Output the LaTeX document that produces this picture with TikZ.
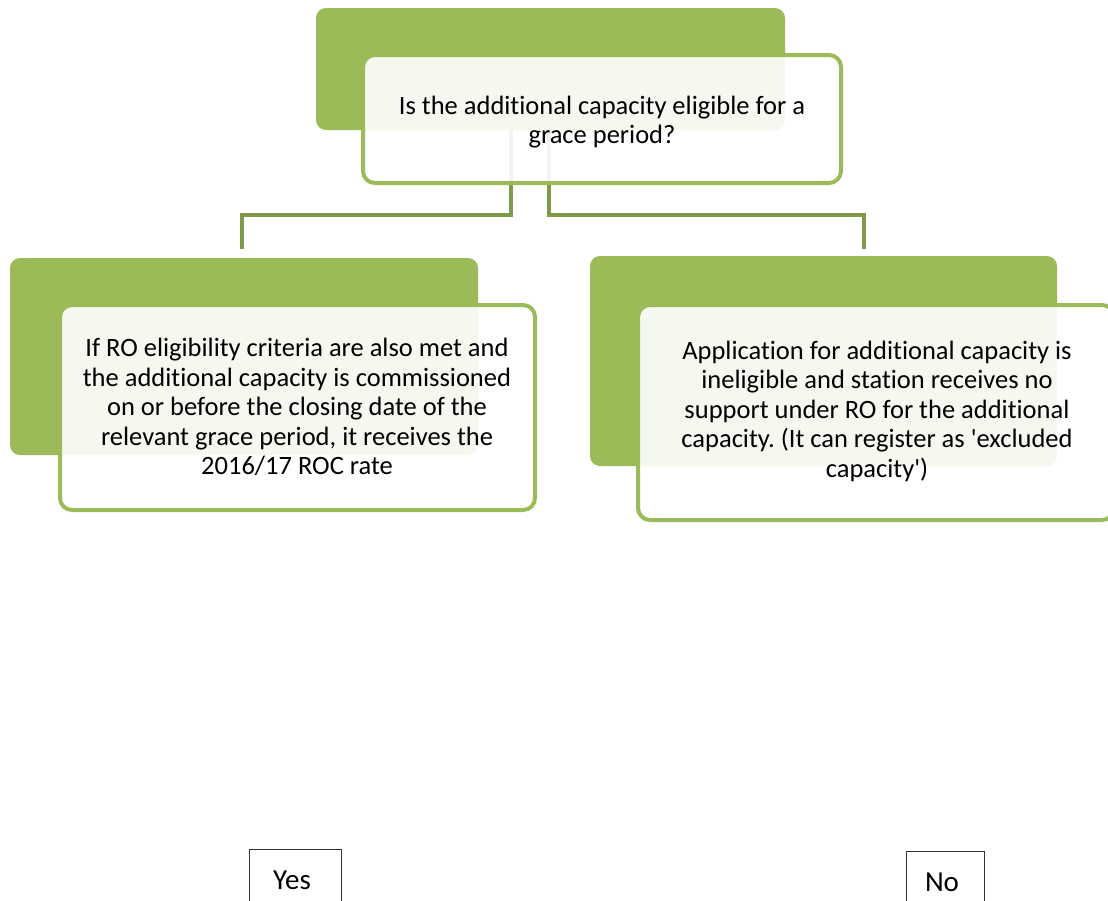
\documentclass[tikz,border=0pt]{standalone}
\usepackage{fontspec}
\setmainfont{Carlito}[Ligatures={NoCommon},RawFeature={-liga;-clig;-dlig}]
\definecolor{gback}{HTML}{9BBB59}
\definecolor{gline}{HTML}{7F9B4A}
\begin{document}
\frenchspacing
\begin{tikzpicture}[x=1pt,y=-1pt,
  backbox/.style={fill=gback, rounded corners=10pt, draw=none},
  frontbox/.style={draw=gback, line width=4pt, fill=white, fill opacity=0.9, text opacity=1, rounded corners=12pt},
  conn/.style={draw=gline, line width=4pt},
  txt/.style={align=center, font=\fontsize{26.5}{29.5}\selectfont, text=black},
  anstxt/.style={font=\fontsize{29}{32}\selectfont, text=black},
  ansbox/.style={draw=black!80, line width=1pt}]
\useasboundingbox (0,0) rectangle (1108,900);
% back rectangles
\path[backbox] (316,8) rectangle (785,130) node[pos=0,inner sep=0] (topback) {};
\path[backbox] (10,258) rectangle (478,455) node[pos=0,inner sep=0] (lback) {};
\path[backbox] (590,256) rectangle (1057,466) node[pos=0,inner sep=0] (rback) {};
% connector coordinates
\coordinate (ls) at (511,130);
\coordinate (rs) at (549,130);
\coordinate (mid) at (0,215);
\coordinate (le) at (242,249);
\coordinate (re) at (864,249);
\draw[conn] (ls) -- (ls |- mid) -- (le |- mid) -- (le);
\draw[conn] (rs) -- (rs |- mid) -- (re |- mid) -- (re);
% front boxes
\path[frontbox] (363,55) rectangle (841,183);
\node[txt] (top) at (602,122) {Is the additional capacity eligible for a\\grace period?};
\path[frontbox] (60,305) rectangle (535,510);
\node[txt] (left) at (297,407) {If RO eligibility criteria are also met and\\the additional capacity is commissioned\\on or before the closing date of the\\relevant grace period, it receives the\\2016/17 ROC rate};
\path[frontbox] (638,305) rectangle (1114,520);
\node[txt] (right) at (877,411) {Application for additional capacity is\\ineligible and station receives no\\support under RO for the additional\\capacity. (It can register as \textquotesingle excluded\\capacity\textquotesingle)};
% answer boxes
\draw[ansbox] (249,849) rectangle (341,905);
\node[anstxt] (yes) at (292,880) {Yes};
\draw[ansbox] (906,851) rectangle (984,905);
\node[anstxt] (no) at (942,882) {No};
\end{tikzpicture}
\end{document}
